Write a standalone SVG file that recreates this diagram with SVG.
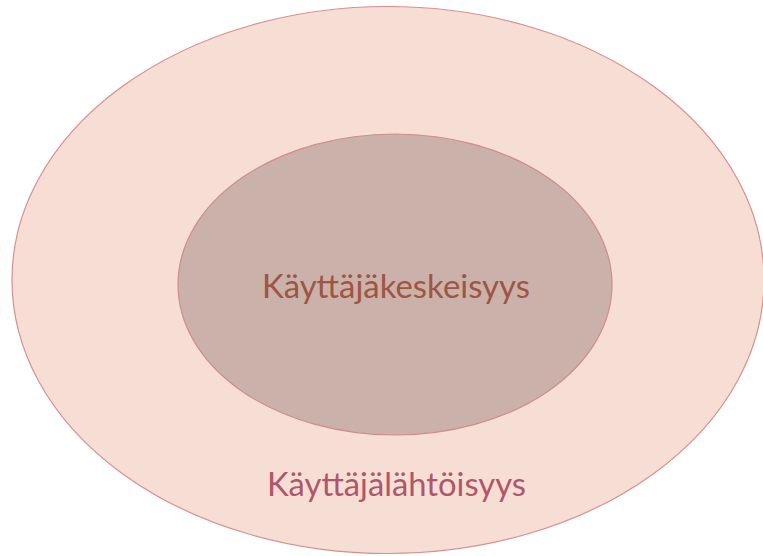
<svg xmlns="http://www.w3.org/2000/svg" width="763" height="556" viewBox="0 0 763 556">
  <style>
    .label { font-family: Lato, "Open Sans", "Liberation Sans", sans-serif; font-size: 33px; text-anchor: middle; }
  </style>
  <rect width="763" height="556" fill="#ffffff"/>
  <!-- outer circle: user-driven -->
  <g id="kayttajalahtoisyys">
    <ellipse cx="388" cy="280" rx="376" ry="273.5" fill="#F7DED5" stroke="#D98E90" stroke-width="1.2"/>
    <text class="label" x="396.5" y="496" fill="#B0566A" textLength="259" lengthAdjust="spacingAndGlyphs">Käyttäjälähtöisyys</text>
  </g>
  <!-- inner circle: user-centred -->
  <g id="kayttajakeskeisyys">
    <ellipse cx="395" cy="284.5" rx="217" ry="150.5" fill="#CAB2AA" stroke="#D38A8C" stroke-width="1.2"/>
    <text class="label" x="396" y="298" fill="#A05443" textLength="268" lengthAdjust="spacingAndGlyphs">Käyttäjäkeskeisyys</text>
  </g>
</svg>
